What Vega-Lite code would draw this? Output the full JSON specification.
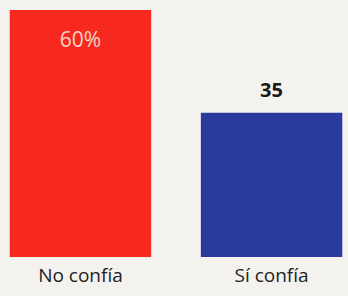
{
  "$schema": "https://vega.github.io/schema/vega-lite/v6.json",
  "autosize": {"type": "none"},
  "width": 348,
  "height": 257,
  "padding": {"left": 0, "top": 0, "right": 0, "bottom": 39},
  "background": "#f3f2ef",
  "config": {"view": {"stroke": null}, "font": "Open Sans"},
  "data": {"values": [
    {"categoria": "No confía", "valor": 60, "etiqueta": "60%"},
    {"categoria": "Sí confía", "valor": 35, "etiqueta": "35"}
  ]},
  "encoding": {
    "x": {"field": "categoria", "type": "nominal", "sort": null,
      "scale": {"range": [4, 348], "paddingInner": 0.26, "paddingOuter": 0.03},
      "axis": {"title": null, "labelAngle": 0, "ticks": false, "domain": false, "labelFontSize": 19, "labelColor": "#222222", "labelPadding": 9, "labelFont": "Open Sans"}},
    "y": {"field": "valor", "type": "quantitative", "scale": {"domain": [0, 62.4], "nice": false}, "axis": null}
  },
  "layer": [
    {"mark": {"type": "bar"},
     "encoding": {"color": {"field": "categoria", "type": "nominal", "legend": null,
       "scale": {"domain": ["No confía", "Sí confía"], "range": ["#f7281e", "#2b3a9e"]}}}},
    {"transform": [{"filter": "datum.valor == 60"}],
     "mark": {"type": "text", "dy": 31, "fontSize": 21, "fontWeight": 500, "color": "#f9d6c8", "font": "Open Sans"},
     "encoding": {"text": {"field": "etiqueta"}}},
    {"transform": [{"filter": "datum.valor == 35"}],
     "mark": {"type": "text", "dy": -22, "fontSize": 20, "fontWeight": "bold", "color": "#1a1a1a", "font": "Open Sans"},
     "encoding": {"text": {"field": "etiqueta"}}}
  ]
}
